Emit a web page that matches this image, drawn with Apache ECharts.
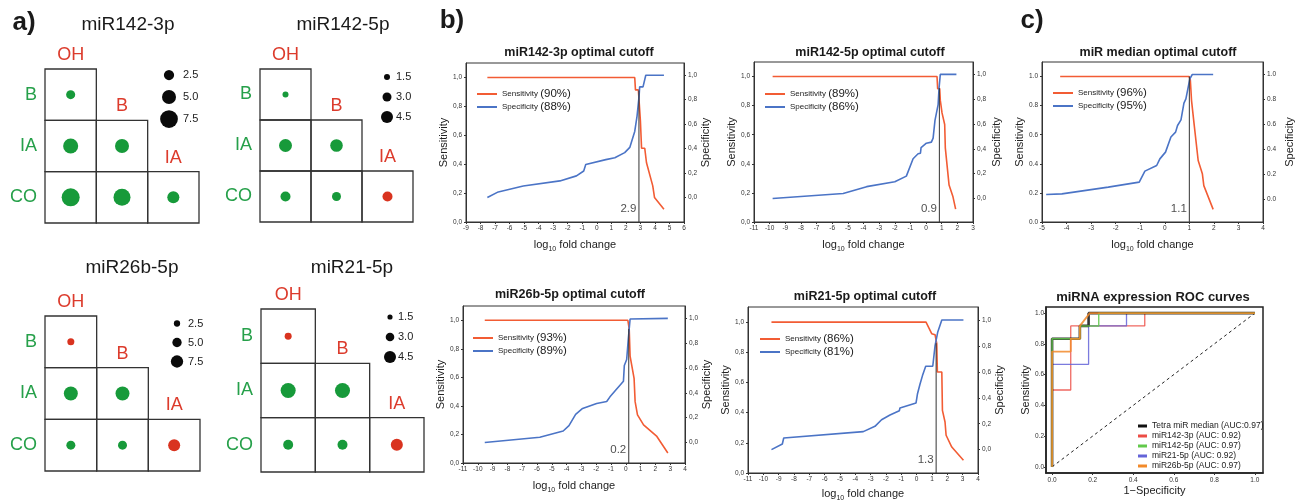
<!DOCTYPE html>
<html><head><meta charset="utf-8">
<script src="https://cdn.jsdelivr.net/npm/echarts@6/dist/echarts.min.js"></script>
<style>html,body{margin:0;padding:0;background:#fff}#c{width:1306px;height:500px}</style>
</head><body><div id="c"></div>
<script>
// ================= DATA =================
// panel a) bubble matrices
const groups = ['OH', 'B', 'IA'];
const rowsA = ['B', 'IA', 'CO'];
const cellPairs = [['OH','B'],['OH','IA'],['B','IA'],['OH','CO'],['B','CO'],['IA','CO']];
const headerCells = [['OH','B'],['B','IA'],['IA','CO']];
// negative = red, positive = green
const vals142_3p = [1.7, 5.7, 5.0, 7.7, 7.0, 3.7];
const vals142_5p = [1.5, 5.0, 4.8, 3.5, 3.0, -3.5];
const vals26b_5p = [-3.1, 8.9, 8.9, 4.75, 4.75, -7.25];
const vals21_5p  = [-2.3, 5.8, 5.8, 3.6, 3.6, -4.5];
const legA1 = [2.5, 5.0, 7.5];
const legA2 = [1.5, 3.0, 4.5];

// panel b)/c) cutoff curves  [log10 fold change, value]
const sens142_3p = [[-7.53,1.0],[2.61,1.0],[2.66,0.914],[2.86,0.914],[3.0,0.7],[3.08,0.51],[3.3,0.51],[3.42,0.41],[3.85,0.25],[3.97,0.17],[4.62,0.088]];
const spec142_3p = [[-7.53,0.0],[-6.78,0.046],[-5.06,0.095],[-2.54,0.136],[-1.4,0.177],[-0.9,0.217],[-0.76,0.27],[0.62,0.31],[1.24,0.326],[1.92,0.367],[2.27,0.41],[2.61,0.54],[2.77,0.666],[2.91,0.83],[2.95,0.905],[3.18,0.905],[3.37,1.0],[4.62,1.0]];
const sens142_5p = [[-9.81,1.0],[0.70,1.0],[0.74,0.917],[0.87,0.917],[0.91,0.836],[1.02,0.75],[1.19,0.67],[1.23,0.51],[1.47,0.254],[1.72,0.173],[1.89,0.088]];
const spec142_5p = [[-9.81,0.0],[-5.3,0.04],[-3.8,0.095],[-2.0,0.135],[-1.26,0.18],[-0.83,0.32],[-0.51,0.36],[-0.36,0.365],[-0.32,0.41],[0.02,0.445],[0.34,0.454],[0.45,0.486],[0.57,0.63],[0.77,0.757],[0.83,0.89],[0.91,1.0],[1.94,1.0]];
const sensMedian = [[-4.26,1.0],[0.99,1.0],[1.04,0.977],[1.09,0.835],[1.14,0.835],[1.2,0.664],[1.36,0.423],[1.53,0.332],[1.59,0.25],[1.97,0.087]];
const specMedian = [[-4.83,0.04],[-4.19,0.045],[-2.3,0.099],[-1.04,0.139],[-0.81,0.227],[-0.33,0.272],[-0.2,0.325],[0.03,0.379],[0.25,0.5],[0.44,0.539],[0.52,0.592],[0.66,0.637],[0.78,0.771],[0.86,0.805],[1.02,0.965],[1.12,1.0],[1.97,1.0]];
const sens26b_5p = [[-9.53,1.0],[0.14,1.0],[0.23,0.94],[0.29,0.749],[0.4,0.749],[0.56,0.593],[0.63,0.43],[0.79,0.337],[1.2,0.267],[2.1,0.186],[2.84,0.07]];
const spec26b_5p = [[-9.53,0.0],[-5.81,0.043],[-4.23,0.093],[-3.84,0.136],[-3.39,0.227],[-2.92,0.275],[-1.97,0.315],[-1.29,0.33],[-1.07,0.368],[-0.16,0.493],[-0.1,0.621],[0.06,0.669],[0.17,0.835],[0.29,0.995],[2.84,1.0]];
const sens21_5p = [[-9.47,1.0],[0.61,1.0],[0.98,0.923],[1.2,0.916],[1.31,0.857],[1.35,0.669],[1.64,0.669],[1.68,0.415],[1.85,0.338],[1.92,0.25],[2.29,0.172],[3.05,0.084]];
const spec21_5p = [[-9.47,0.0],[-8.76,0.044],[-8.67,0.09],[-3.48,0.139],[-2.72,0.18],[-2.29,0.231],[-1.74,0.267],[-1.13,0.3],[-1.09,0.321],[-0.04,0.36],[0.05,0.429],[0.22,0.506],[0.38,0.571],[0.59,0.643],[1.05,0.643],[1.2,0.802],[1.37,0.905],[1.64,1.0],[3.05,1.0]];
const cutoffValues = [2.9, 0.85, 1.0, 0.2, 1.27];
const cutoffLabels = ['2.9', '0.9', '1.1', '0.2', '1.3'];
const cutoffTops = [0.91, 0.92, 1.0, 0.94, 0.86];
const sensPct = ['90%', '89%', '96%', '93%', '86%'];
const specPct = ['88%', '86%', '95%', '89%', '81%'];
const tickVals = [0, 0.2, 0.4, 0.6, 0.8, 1.0];

// ROC curves [1-specificity, sensitivity]
const rocNames = ['Tetra miR median (AUC:0.97)', 'miR142-3p (AUC: 0.92)', 'miR142-5p (AUC: 0.97)', 'miR21-5p (AUC: 0.92)', 'miR26b-5p (AUC: 0.97)'];
const rocMedian = [[0,0],[0,0.833],[0.137,0.833],[0.137,0.917],[0.18,0.917],[0.18,1],[1,1]];
const roc142_3p = [[0,0],[0,0.5],[0.092,0.5],[0.092,0.917],[0.457,0.917],[0.457,1],[1,1]];
const roc142_5p = [[0,0],[0,0.833],[0.137,0.833],[0.137,0.917],[0.23,0.917],[0.23,1],[1,1]];
const roc21_5p  = [[0,0],[0,0.667],[0.18,0.667],[0.18,0.917],[0.367,0.917],[0.367,1],[1,1]];
const roc26b_5p = [[0,0],[0,0.75],[0.092,0.75],[0.092,0.833],[0.137,0.833],[0.137,0.917],[0.186,1],[1,1]];
const rocDiag = [[0,0],[1,1]];

// ================= STYLE / BUILD =================
const FONT = '"Liberation Sans", Arial, Helvetica, sans-serif';
const GREEN_T = '#26a04a', RED_T = '#dc3b2c', GREEN_D = '#179a3a', RED_D = '#d9331f';
const SENS_C = '#f25c34', SPEC_C = '#4b74c6';
const option = {animation:false, backgroundColor:'#fff', textStyle:{fontFamily:FONT},
  grid:[], xAxis:[], yAxis:[], series:[], title:[], legend:[]};

function addGrid(g){ option.grid.push(Object.assign({outerBoundsMode:'none', containLabel:false}, g)); return option.grid.length-1; }
function addX(a){ return option.xAxis.push(a)-1; }
function addY(a){ return option.yAxis.push(a)-1; }
function addTitle(text, x, y, size, bold){
  option.title.push({text:text, left:x, top:y, padding:0, textAlign:'center', textVerticalAlign:'middle',
    textStyle:{fontSize:size, fontWeight:bold?'bold':'normal', color:'#1a1a1a', fontFamily:FONT}});
}

function cellRender(params, api){
  const c = api.coord([api.value(0), api.value(1)]);
  const s = api.size([1, 1]);
  return {type:'rect', shape:{x:c[0]-s[0]/2, y:c[1]-s[1]/2, width:s[0], height:s[1]},
    style:{fill:'none', stroke:'#333', lineWidth:1.3}};
}
function headerRender(params, api){
  const c = api.coord([api.value(0), api.value(1)]);
  const s = api.size([1, 1]);
  return {type:'text', x:c[0], y:c[1]-s[1]/2-14,
    style:{text:headerCells[params.dataIndex][0], fill:RED_T, fontSize:18, fontFamily:FONT, align:'center', verticalAlign:'middle'}};
}

function addMatrix(m){
  const gi = addGrid({left:m.left, top:m.top, width:m.size, height:m.size});
  const xi = addX({type:'category', gridIndex:gi, data:groups, show:false});
  const yi = addY({type:'category', gridIndex:gi, data:rowsA, inverse:true,
    axisLine:{show:false}, axisTick:{show:false}, splitLine:{show:false},
    axisLabel:{color:GREEN_T, fontSize:18, margin:8, fontFamily:FONT}});
  option.series.push({type:'custom', xAxisIndex:xi, yAxisIndex:yi, data:cellPairs, renderItem:cellRender, silent:true, z:1});
  option.series.push({type:'custom', xAxisIndex:xi, yAxisIndex:yi, data:headerCells, renderItem:headerRender, silent:true, z:1});
  option.series.push({type:'scatter', xAxisIndex:xi, yAxisIndex:yi, silent:true, z:3,
    data:cellPairs.map((p,i)=>({value:[p[0], p[1], m.values[i]], itemStyle:{color:m.values[i]<0?RED_D:GREEN_D, opacity:1}})),
    itemStyle:{opacity:1},
    symbolSize:(v)=>m.a + m.b*Math.abs(v[2])});
  // size legend
  const lg = addGrid({left:m.lx-6, top:m.ly, width:12, height:m.lh});
  const lxi = addX({type:'category', gridIndex:lg, data:['k'], show:false});
  const lyi = addY({type:'category', gridIndex:lg, data:m.leg.map(v=>v.toFixed(1)), inverse:true, position:'right',
    axisLine:{show:false}, axisTick:{show:false}, splitLine:{show:false},
    axisLabel:{color:'#222', fontSize:11, margin:m.lm, align:'left', fontFamily:FONT}});
  option.series.push({type:'scatter', xAxisIndex:lxi, yAxisIndex:lyi, silent:true,
    data:m.leg.map(v=>['k', v.toFixed(1)]), itemStyle:{color:'#0a0a0a', opacity:1},
    symbolSize:(v, p)=>m.a + m.b*m.leg[p.dataIndex]});
  addTitle(m.title, m.tx, m.ty, 19, false);
}

addMatrix({title:'miR142-3p', left:45, top:69, size:154, values:vals142_3p, a:6.5, b:1.5, leg:legA1, lx:169, ly:64, lh:66, lm:8, tx:128, ty:25});
addMatrix({title:'miR142-5p', left:260, top:69, size:153, values:vals142_5p, a:3, b:2, leg:legA2, lx:387, ly:67, lh:60, lm:3, tx:343, ty:25});
addMatrix({title:'miR26b-5p', left:45, top:316, size:155, values:vals26b_5p, a:3.3, b:1.2, leg:legA1, lx:177, ly:314, lh:57, lm:5, tx:132, ty:268});
addMatrix({title:'miR21-5p', left:261, top:309, size:163, values:vals21_5p, a:1.7, b:2.3, leg:legA2, lx:390, ly:307, lh:60, lm:2, tx:352, ty:268});

// cutoff charts
const LOGNAME = '{a|log}{s|10}{a| fold change}';
const logRich = {a:{fontSize:11, lineHeight:16, color:'#222', fontFamily:FONT}, s:{fontSize:7, lineHeight:8, verticalAlign:'bottom', color:'#222', fontFamily:FONT}};
function legendFmt(name){ const i = name.indexOf('('); return '{a|'+name.slice(0,i)+'}{b|'+name.slice(i)+'}'; }

function addCutoff(c, k){
  const fmt = c.comma ? (v=>v.toFixed(1).replace('.', ',')) : (v=>v.toFixed(1));
  const gi = addGrid({left:c.left, top:c.top, width:c.width, height:c.height, show:true, borderColor:'#333', borderWidth:1, backgroundColor:'rgba(0,0,0,0)'});
  const xi = addX({type:'value', gridIndex:gi, min:c.xmin, max:c.xmax, interval:1,
    axisLine:{show:true, onZero:false, lineStyle:{color:'#333', width:1}}, axisTick:{show:true, length:2, lineStyle:{color:'#333'}},
    axisLabel:{fontSize:6.5, color:'#333', margin:3}, splitLine:{show:false},
    name:LOGNAME, nameLocation:'middle', nameGap:c.xg, nameTextStyle:{rich:logRich}});
  const axisBase = (extra)=>Object.assign({type:'value', gridIndex:gi, max:1.1,
    axisLine:{show:true, onZero:false, lineStyle:{color:'#333', width:1}},
    axisTick:{show:true, length:2, customValues:tickVals, lineStyle:{color:'#333'}},
    axisLabel:{fontSize:6.5, color:'#333', margin:4, customValues:tickVals, formatter:fmt},
    splitLine:{show:false}, nameLocation:'middle', nameRotate:90,
    nameTextStyle:{fontSize:11, color:'#222', fontFamily:FONT}}, extra);
  const yl = addY(axisBase({min:0, position:'left', name:'Sensitivity', nameGap:c.lg}));
  const yr = addY(axisBase({min:c.rmin, position:'right', name:'Specificity', nameGap:c.rg}));
  const sName = 'Sensitivity ('+sensPct[k]+')', pName = 'Specificity ('+specPct[k]+')';
  option.series.push({type:'line', name:sName, xAxisIndex:xi, yAxisIndex:yl, data:c.sens, symbol:'none', silent:true,
    lineStyle:{color:SENS_C, width:1.6}, itemStyle:{color:SENS_C}, z:3});
  option.series.push({type:'line', name:pName, xAxisIndex:xi, yAxisIndex:yr, data:c.spec, symbol:'none', silent:true,
    lineStyle:{color:SPEC_C, width:1.6}, itemStyle:{color:SPEC_C}, z:3});
  option.series.push({type:'line', xAxisIndex:xi, yAxisIndex:yl, data:[[cutoffValues[k],0],[cutoffValues[k],cutoffTops[k]]],
    symbol:'none', silent:true, lineStyle:{color:'#333', width:1}, z:4});
  option.series.push({type:'scatter', xAxisIndex:xi, yAxisIndex:yl, data:[[cutoffValues[k], 0.09]], symbolSize:1, silent:true,
    itemStyle:{color:'rgba(0,0,0,0)'},
    label:{show:true, position:'left', distance:2, formatter:cutoffLabels[k], fontSize:11.5, color:'#222', fontFamily:FONT}});
  option.legend.push({data:[sName, pName], left:c.lgx, top:c.lgy, orient:'vertical', icon:'rect', itemWidth:20, itemHeight:2,
    itemGap:1, padding:0, selectedMode:false, formatter:legendFmt,
    textStyle:{rich:{a:{fontSize:8, lineHeight:11, color:'#222', fontFamily:FONT}, b:{fontSize:11.5, lineHeight:11, color:'#222', fontFamily:FONT}}}});
  addTitle(c.title, c.tx, c.ty, 12.5, true);
}

addCutoff({title:'miR142-3p optimal cutoff', left:466, top:63, width:218, height:159, xmin:-9, xmax:6, rmin:-0.2, comma:true,
  sens:sens142_3p, spec:spec142_3p, xg:15, lg:16, rg:15, lgx:477, lgy:88, tx:579, ty:53}, 0);
addCutoff({title:'miR142-5p optimal cutoff', left:754, top:62, width:219, height:160, xmin:-11, xmax:3, rmin:-0.19, comma:true,
  sens:sens142_5p, spec:spec142_5p, xg:15, lg:17, rg:18, lgx:765, lgy:88, tx:870, ty:53}, 1);
addCutoff({title:'miR median optimal cutoff', left:1042, top:62, width:221, height:160, xmin:-5, xmax:4, rmin:-0.18, comma:false,
  sens:sensMedian, spec:specMedian, xg:15, lg:17, rg:21, lgx:1053, lgy:87, tx:1158, ty:53}, 2);
addCutoff({title:'miR26b-5p optimal cutoff', left:463, top:306, width:222, height:157, xmin:-11, xmax:4, rmin:-0.165, comma:true,
  sens:sens26b_5p, spec:spec26b_5p, xg:15, lg:14, rg:15, lgx:473, lgy:332, tx:570, ty:295}, 3);
addCutoff({title:'miR21-5p optimal cutoff', left:748, top:307, width:230, height:166, xmin:-11, xmax:4, rmin:-0.18, comma:true,
  sens:sens21_5p, spec:spec21_5p, xg:13, lg:15, rg:14, lgx:760, lgy:333, tx:865, ty:297}, 4);

// ROC
(function(){
  const gi = addGrid({left:1046, top:307, width:217, height:166, show:true, borderColor:'#222', borderWidth:1.5, backgroundColor:'rgba(0,0,0,0)'});
  const f1 = v=>v.toFixed(1);
  const base = {type:'value', gridIndex:gi, axisLine:{show:true, onZero:false, lineStyle:{color:'#222', width:1.5}},
    axisTick:{show:true, length:2, customValues:tickVals, lineStyle:{color:'#333'}},
    axisLabel:{fontSize:6.5, color:'#333', customValues:tickVals, formatter:f1},
    splitLine:{show:false}, nameLocation:'middle', nameTextStyle:{fontSize:11, color:'#222', fontFamily:FONT}};
  const xi = addX(Object.assign({}, base, {min:-0.03, max:1.04, name:'1\u2212Specificity', nameGap:12,
    axisLabel:Object.assign({}, base.axisLabel, {margin:4})}));
  const yi = addY(Object.assign({}, base, {min:-0.04, max:1.04, name:'Sensitivity', nameGap:9, nameRotate:90,
    axisLabel:Object.assign({}, base.axisLabel, {margin:2})}));
  option.series.push({type:'line', xAxisIndex:xi, yAxisIndex:yi, data:rocDiag, symbol:'none', silent:true,
    lineStyle:{color:'#222', width:1, type:[3,3]}, z:2});
  const rocSets = [rocMedian, roc142_3p, roc142_5p, roc21_5p, roc26b_5p];
  const rocCols = ['#111111', '#ec4d45', '#62c94b', '#6464d8', '#f28a2a'];
  const rocW = [2.6, 1.3, 1.5, 1.3, 1.8];
  const order = [1, 3, 0, 2, 4];
  order.forEach(i=>{
    option.series.push({type:'line', name:rocNames[i], xAxisIndex:xi, yAxisIndex:yi, data:rocSets[i], symbol:'none', silent:true,
      lineStyle:{color:rocCols[i], width:rocW[i], opacity:0.85}, itemStyle:{color:rocCols[i]}, z:3});
  });
  option.legend.push({data:rocNames, left:1138, top:421, orient:'vertical', icon:'rect', itemWidth:9, itemHeight:3, itemGap:0,
    padding:0, selectedMode:false, textStyle:{fontSize:8.5, lineHeight:10, color:'#222', fontFamily:FONT}});
  addTitle('miRNA expression ROC curves', 1153, 297, 13, true);
})();

addTitle('a)', 24, 23, 26, true);
addTitle('b)', 452, 21, 26, true);
addTitle('c)', 1032, 21, 26, true);

const chart = echarts.init(document.getElementById('c'), null, {renderer:'canvas'});
chart.setOption(option);
</script>
</body></html>
